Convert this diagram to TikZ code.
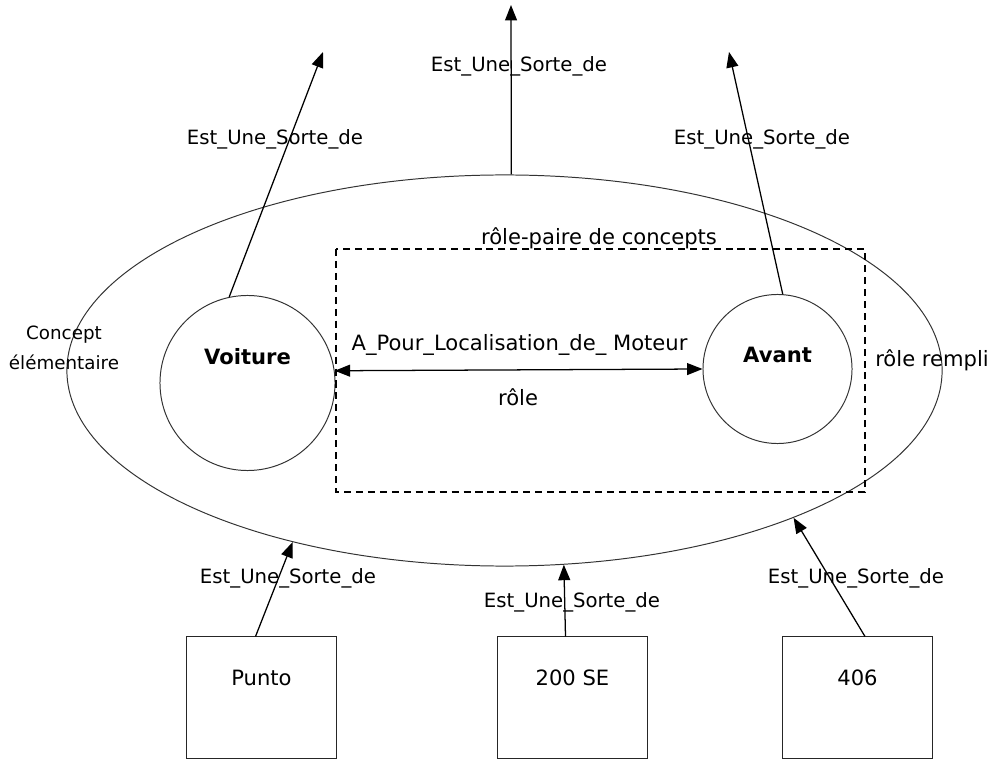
\documentclass[tikz,border=0pt]{standalone}
\usepackage{fontspec}
\setmainfont{DejaVu Sans}
\usetikzlibrary{arrows.meta,calc,shapes.geometric}

\begin{document}
\begin{tikzpicture}[
  x=0.025cm, y=0.025cm,
  >={Triangle[length=11pt,width=8.5pt]},
  concept/.style={draw=black!80,line width=0.7pt,circle,inner sep=0pt},
  instance/.style={draw=black!85,line width=0.7pt,rectangle,inner sep=0pt,
    minimum width=3.725cm,minimum height=3.025cm},
  lien/.style={->,line width=0.9pt},
  etiq/.style={font=\fontsize{14}{16}\selectfont},
  texte/.style={font=\fontsize{15}{18}\selectfont},
  gras/.style={font=\fontsize{15}{18}\selectfont\bfseries},
]
  \useasboundingbox (0,0) rectangle (993,-760);

  % Concept elementaire (ellipse) et concepts
  \node[draw=black!80,line width=0.7pt,ellipse,inner sep=0pt,minimum width=21.875cm,
    minimum height=9.775cm] (elem) at (504.5,-370.5) {};
  \node[concept,minimum size=4.375cm,
    label={[gras,yshift=0.65cm]center:Voiture}] (voiture) at (247.5,-383) {};
  \node[concept,minimum size=3.725cm,
    label={[gras,yshift=0.35cm]center:Avant}] (avant) at (777.5,-369) {};

  % Role-paire de concepts
  \draw[dash pattern=on 5pt off 3.5pt,line width=0.9pt] (336,-249) rectangle (865,-492);
  \node[texte] (paire) at (599,-238) {rôle-paire de concepts};

  % Instances
  \node[instance,label={[texte,yshift=0.5cm]center:Punto}] (punto) at (261.5,-697.5) {};
  \node[instance,label={[texte,yshift=0.5cm]center:200 SE}] (se) at (572.5,-697.5) {};
  \node[instance,label={[texte,yshift=0.5cm]center:406}] (p406) at (857.5,-697.5) {};

  % Extremites libres
  \coordinate (hautG) at (323,-52);
  \coordinate (hautM) at (511,-5);
  \coordinate (hautD) at (729,-52);

  % Liens Est_Une_Sorte_de
  \draw[lien] (voiture.102) -- (hautG);
  \draw[lien] (elem.88.1) -- (hautM);
  \draw[lien] (avant.86) -- (hautD);
  \draw[lien] ($(punto.north)+(-6,0)$) -- (elem.219.5);
  \draw[lien] ($(se.north)+(-7,0)$) -- (elem.287.5);
  \draw[lien] ($(p406.north)+(7.5,0)$) -- (elem.333.8);

  \node[etiq] (eG) at (275,-139) {Est\_Une\_Sorte\_de};
  \node[etiq] (eM) at (519,-66) {Est\_Une\_Sorte\_de};
  \node[etiq] (eD) at (762,-139) {Est\_Une\_Sorte\_de};
  \node[etiq] (ePunto) at (288,-578) {Est\_Une\_Sorte\_de};
  \node[etiq] (eSE) at (572,-602) {Est\_Une\_Sorte\_de};
  \node[etiq] (e406) at (856,-578) {Est\_Une\_Sorte\_de};

  % Role
  \draw[<->,line width=0.9pt] (voiture.8.5) -- (avant.west);
  \node[texte] (nomrole) at (519.5,-345) {A\_Pour\_Localisation\_de\_ Moteur};
  \node[texte] (role) at (518,-397) {rôle};

  % Autres textes
  \node[align=center,font=\fontsize{13}{21}\selectfont] (cpt) at (64,-348)
    {Concept\\élémentaire};
  \node[texte] (rempli) at (932,-360) {rôle rempli};
\end{tikzpicture}
\end{document}
